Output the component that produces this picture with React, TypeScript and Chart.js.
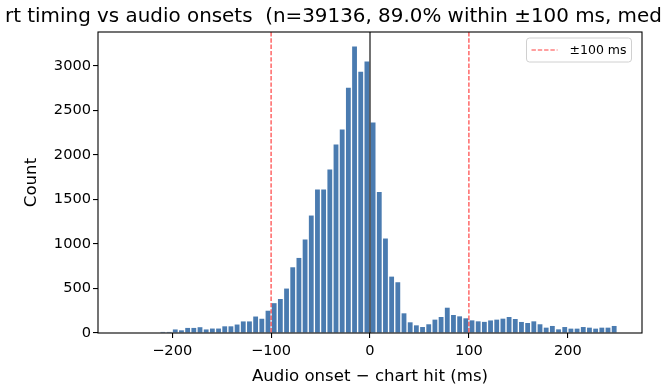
import { useEffect, useRef } from "react";
import { Chart, registerables } from "chart.js";

Chart.register(...registerables);

// Histogram bins: 80 bins of 6.25 ms spanning -250..250 ms
const BIN_START = -250;
const BIN_WIDTH = 6.25;
const COUNTS = [
  0, 0, 0, 0, 0, 0, 12, 12, 40, 30,
  57, 57, 65, 40, 50, 50, 75, 75, 95, 130,
  130, 185, 160, 250, 335, 382, 499, 738, 843, 1050,
  1319, 1611, 1611, 1836, 2117, 2285, 2753, 3218, 2933, 3048,
  2364, 1584, 1061, 633, 570, 221, 120, 86, 67, 98,
  150, 180, 284, 202, 187, 165, 142, 131, 125, 141,
  150, 161, 180, 157, 124, 112, 131, 98, 60, 79,
  41, 67, 49, 49, 67, 60, 49, 60, 60, 79,
];

const X_TICKS = [-200, -100, 0, 100, 200];
const Y_TICKS = [0, 500, 1000, 1500, 2000, 2500, 3000];
const X_RANGE = [-275, 275];
const Y_RANGE = [0, 3380];
const WINDOW_MS = [-100, 100];

const TITLE = "rt timing vs audio onsets  (n=39136, 89.0% within \u00b1100 ms, med";
const X_LABEL = "Audio onset \u2212 chart hit (ms)";
const Y_LABEL = "Count";
const LEGEND_LABEL = "\u00b1100 ms";

const FONT = '"DejaVu Sans", "Liberation Sans", sans-serif';
const TICK_SIZE = 14.6;
const BAR_COLOR = "#4a7bb0";
const WINDOW_COLOR = "rgba(255, 0, 0, 0.75)";

const fmt = (v: number) => (v < 0 ? "\u2212" + Math.abs(v) : String(v));

const overlay = {
  id: "overlay",
  afterDatasetsDraw(chart: any) {
    const { ctx, chartArea: a, scales } = chart;
    const x = scales.x;
    ctx.save();

    // ±window markers
    ctx.strokeStyle = WINDOW_COLOR;
    ctx.lineWidth = 1.2;
    ctx.setLineDash([4.4, 1.9]);
    for (const v of WINDOW_MS) {
      const px = x.getPixelForValue(v);
      ctx.beginPath();
      ctx.moveTo(px, a.top);
      ctx.lineTo(px, a.bottom);
      ctx.stroke();
    }

    // zero reference
    ctx.setLineDash([]);
    ctx.strokeStyle = "rgba(0, 0, 0, 0.85)";
    ctx.lineWidth = 1.3;
    const zx = x.getPixelForValue(0);
    ctx.beginPath();
    ctx.moveTo(zx, a.top);
    ctx.lineTo(zx, a.bottom);
    ctx.stroke();

    // axes frame
    ctx.strokeStyle = "#000";
    ctx.lineWidth = 1.1;
    ctx.strokeRect(a.left, a.top, a.right - a.left, a.bottom - a.top);

    // legend
    const bw = 105;
    const bh = 24;
    const bx = a.right - 10.5 - bw;
    const by = a.top + 6;
    ctx.beginPath();
    ctx.roundRect(bx, by, bw, bh, 3);
    ctx.fillStyle = "rgba(255, 255, 255, 0.8)";
    ctx.fill();
    ctx.strokeStyle = "#d0d0d0";
    ctx.lineWidth = 1;
    ctx.stroke();
    ctx.strokeStyle = WINDOW_COLOR;
    ctx.lineWidth = 1.2;
    ctx.setLineDash([4.4, 1.9]);
    ctx.beginPath();
    ctx.moveTo(bx + 5, by + bh / 2);
    ctx.lineTo(bx + 31, by + bh / 2);
    ctx.stroke();
    ctx.setLineDash([]);
    ctx.fillStyle = "#000";
    ctx.font = `12.5px ${FONT}`;
    ctx.textAlign = "left";
    ctx.textBaseline = "middle";
    ctx.fillText(LEGEND_LABEL, bx + 43, by + bh / 2 + 0.5);

    // axis titles
    ctx.font = `16.6px ${FONT}`;
    ctx.textAlign = "center";
    ctx.textBaseline = "alphabetic";
    ctx.fillText(X_LABEL, (a.left + a.right) / 2, 381);
    ctx.save();
    ctx.translate(36, (a.top + a.bottom) / 2);
    ctx.rotate(-Math.PI / 2);
    ctx.fillText(Y_LABEL, 0, 0);
    ctx.restore();

    // title
    ctx.font = `19.9px ${FONT}`;
    ctx.textAlign = "left";
    ctx.fillText(TITLE, 5, 22);

    ctx.restore();
  },
};

export default function App() {
  const ref = useRef<HTMLCanvasElement | null>(null);

  useEffect(() => {
    if (!ref.current) return;
    const data = COUNTS.map((c, i) => ({ x: BIN_START + (i + 0.5) * BIN_WIDTH, y: c }));
    const chart = new Chart(ref.current, {
      type: "bar",
      data: {
        datasets: [
          {
            label: "Count",
            data,
            backgroundColor: BAR_COLOR,
            borderWidth: 0,
            barPercentage: 0.78,
            categoryPercentage: 1,
          },
        ],
      },
      options: {
        animation: false,
        responsive: true,
        maintainAspectRatio: false,
        layout: { padding: { top: 32, right: 24, left: 0, bottom: 0 } },
        plugins: {
          legend: { display: false },
          title: { display: false },
          tooltip: { enabled: false },
        },
        scales: {
          x: {
            type: "linear",
            min: X_RANGE[0],
            max: X_RANGE[1],
            offset: false,
            afterBuildTicks: (s: any) => {
              s.ticks = X_TICKS.map((v) => ({ value: v }));
            },
            afterFit: (s: any) => {
              s.height = 57;
            },
            grid: { offset: false, drawOnChartArea: false, drawTicks: true, tickLength: 5, color: "#000", lineWidth: 1.1 },
            border: { display: false },
            ticks: {
              color: "#000",
              font: { family: FONT, size: TICK_SIZE },
              padding: 4,
              maxRotation: 0,
              autoSkip: false,
              callback: (v: any) => fmt(Number(v)),
            },
          },
          y: {
            type: "linear",
            min: Y_RANGE[0],
            max: Y_RANGE[1],
            afterBuildTicks: (s: any) => {
              s.ticks = Y_TICKS.map((v) => ({ value: v }));
            },
            afterFit: (s: any) => {
              s.width = 98;
            },
            grid: { drawOnChartArea: false, drawTicks: true, tickLength: 5, color: "#000", lineWidth: 1.1 },
            border: { display: false },
            ticks: {
              color: "#000",
              font: { family: FONT, size: TICK_SIZE },
              padding: 2,
              autoSkip: false,
              callback: (v: any) => fmt(Number(v)),
            },
          },
        },
      },
      plugins: [overlay],
    });
    return () => chart.destroy();
  }, []);

  return (
    <div style={{ position: "absolute", left: 0, top: 0, width: 666, height: 390, background: "#fff" }}>
      <canvas ref={ref} />
    </div>
  );
}
